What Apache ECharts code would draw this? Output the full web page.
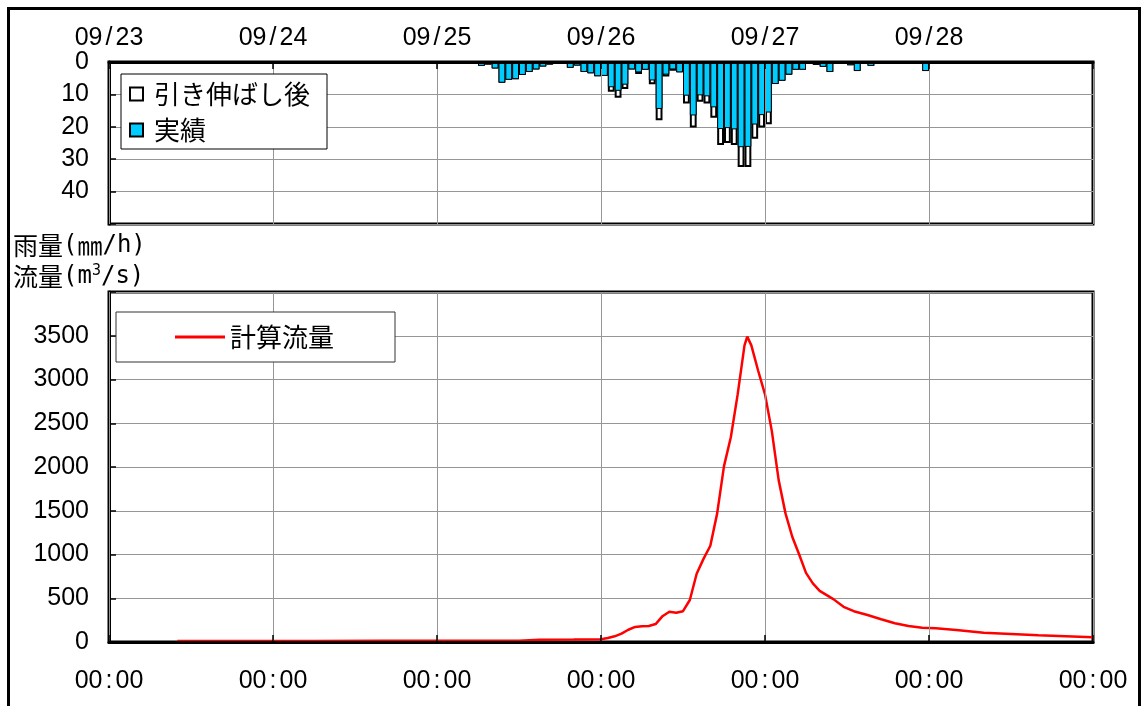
<!DOCTYPE html>
<html><head><meta charset="utf-8">
<script src="https://cdn.jsdelivr.net/npm/echarts@6/dist/echarts.min.js"></script>
<style>html,body{margin:0;padding:0;background:#fff}#c{width:1143px;height:706px}</style>
</head><body><div id="c"></div>
<script>
// tick labels
const dateLabels = ['09/23','09/24','09/25','09/26','09/27','09/28',''];
const timeLabels = ['00:00','00:00','00:00','00:00','00:00','00:00','00:00'];
// hourly rainfall (hour index from 09/23 00:00), mm/h
const rainHours = [30,31,53,54,55,56,57,58,59,60,61,62,63,64,65,66,67,68,69,70,71,72,73,74,75,76,77,78,79,80,81,82,83,84,85,86,87,88,89,90,91,92,93,94,95,96,97,98,99,100,101,102,103,104,105,106,107,108,109,110,111,119];
const rainActual = [0.4,0.4,0.3,1.2,0.8,2.0,6.4,5.5,5.3,4.0,3.1,2.3,1.4,0.8,0.5,0.3,1.8,1.1,3.1,3.5,4.4,4.3,7.8,8.9,7.0,2.3,3.2,2.4,5.7,14.5,3.9,2.3,3.2,10.4,16.5,10.3,10.6,14.0,20.7,20.4,20.8,26.3,26.2,19.3,16.4,15.6,6.8,5.8,3.9,2.4,2.4,0.2,0.9,1.5,3.1,0.2,0.2,1.0,2.8,0.2,1.2,2.8];
const rainStretched = [0.4,0.4,0.3,1.2,0.8,2.0,6.4,5.5,5.3,4.0,3.1,2.3,1.4,0.8,0.5,0.3,1.8,1.1,3.1,3.5,4.4,4.3,9.2,11.0,8.3,2.3,3.7,2.4,6.9,18.0,4.5,2.7,3.2,12.8,20.2,12.3,12.8,17.2,25.6,25.0,25.6,32.4,32.4,23.7,20.2,19.2,6.8,5.8,3.9,2.4,2.4,0.2,0.9,1.5,3.1,0.2,0.2,1.0,2.8,0.2,1.2,2.8];
// computed discharge, m3/s
const flowHours = [10,20,30,40,50,60,63,68,72,73,74,75,76,77,78,79,80,81,82,83,84,85,86,87,88,89,90,91,92,93,93.4,94,95,96,97,98,99,100,101,102,103,104,106,107.5,109,111,113,115,117,119,121,124,128,132,136,140,144];
const flowValues = [12,12,12,13,14,15,25,28,32,45,65,95,140,172,180,183,205,295,345,335,352,480,780,950,1100,1470,2010,2340,2830,3390,3490,3390,3100,2830,2410,1850,1470,1200,1000,790,670,585,490,402,352,308,260,215,182,162,156,137,106,91,76,65,54];

const NUM_FONT = 'Liberation Sans';
const JP_FONT = 'Noto Sans CJK JP';
const MONO = 'DejaVu Sans Mono';
const GRID_L = 109, GRID_W = 984;
const gridLine = {show:true, lineStyle:{color:'#969696', width:1}};
const tick = {show:true, inside:true, length:7, lineStyle:{color:'#000', width:1.5}};
const sepRich = {s:{fontFamily:NUM_FONT, fontSize:25, color:'#000', padding:[0,3,0,3]}};
const withSep = (t) => t.replace(/([\/:])/, '{s|$1}');
const titleRich = {
  m:{fontFamily:MONO, fontSize:24, color:'#000'},
  sup:{fontFamily:MONO, fontSize:15, color:'#000', verticalAlign:'top', padding:[0,0,0,0]}
};

const chart = echarts.init(document.getElementById('c'), null, {renderer:'canvas'});
chart.setOption({
  animation:false,
  backgroundColor:'#fff',
  title:[
    {text:'雨量{m|(}㎜{m|/h)}', left:13, top:233, padding:0,
     textStyle:{fontFamily:JP_FONT, fontSize:25, fontWeight:'normal', color:'#000', rich:titleRich}},
    {text:'流量{m|(m}{sup|3}{m|/s)}', left:13, top:264, padding:0,
     textStyle:{fontFamily:JP_FONT, fontSize:25, fontWeight:'normal', color:'#000', rich:titleRich}}
  ],
  grid:[
    {left:GRID_L, top:62, width:GRID_W, height:162, show:true, borderColor:'#000', borderWidth:3, backgroundColor:'transparent'},
    {left:GRID_L, top:292, width:GRID_W, height:350, show:true, borderColor:'#000', borderWidth:3, backgroundColor:'transparent'}
  ],
  legend:[
    {data:['引き伸ばし後','実績'], orient:'vertical', left:121, top:74, backgroundColor:'#fff', borderColor:'#000', borderWidth:1,
     padding:[7,17,6,8], itemWidth:13, itemHeight:13, itemGap:10, icon:'rect', z:20,
     textStyle:{fontFamily:JP_FONT, fontSize:26, color:'#000', padding:[0,0,0,6]}},
    {data:['計算流量'], left:116, top:312, backgroundColor:'#fff', borderColor:'#333', borderWidth:1,
     padding:[12,61,12,59], itemWidth:50, itemHeight:3, icon:'rect', z:20,
     textStyle:{fontFamily:JP_FONT, fontSize:26, color:'#000'}}
  ],
  xAxis:[
    {type:'value', gridIndex:0, min:0, max:144, interval:24, position:'top',
     axisLine:{show:true, lineStyle:{color:'#000', width:3}}, z:10, axisTick:tick, splitLine:gridLine,
     axisLabel:{margin:11, fontFamily:NUM_FONT, fontSize:25, color:'#000', rich:sepRich,
       formatter:v=>withSep(dateLabels[Math.round(v/24)])}},
    {type:'value', gridIndex:1, min:0, max:144, interval:24, position:'bottom',
     axisLine:{show:true, lineStyle:{color:'#000', width:3}}, z:10, axisTick:tick, splitLine:gridLine,
     axisLabel:{margin:27, fontFamily:NUM_FONT, fontSize:25, color:'#000', rich:sepRich,
       formatter:v=>withSep(timeLabels[Math.round(v/24)])}}
  ],
  yAxis:[
    {type:'value', gridIndex:0, min:0, max:50, interval:10, inverse:true,
     axisLine:{show:true, lineStyle:{color:'#000', width:3}}, axisTick:tick, splitLine:gridLine,
     axisLabel:{margin:20, fontFamily:NUM_FONT, fontSize:25, color:'#000', formatter:v=>v>=50?'':String(v)}},
    {type:'value', gridIndex:1, min:0, max:4000, interval:500,
     axisLine:{show:true, lineStyle:{color:'#000', width:3}}, axisTick:tick, splitLine:gridLine,
     axisLabel:{margin:20, fontFamily:NUM_FONT, fontSize:25, color:'#000', formatter:v=>v>=4000?'':String(v)}}
  ],
  series:[
    {type:'bar', name:'引き伸ばし後', xAxisIndex:0, yAxisIndex:0, barWidth:GRID_W/144, barGap:'-100%',
     data:rainHours.map((h,i)=>[h+0.5, rainStretched[i]]),
     itemStyle:{color:'#fff', borderColor:'#000', borderWidth:2}},
    {type:'bar', name:'実績', xAxisIndex:0, yAxisIndex:0, barWidth:GRID_W/144, barGap:'-100%',
     data:rainHours.map((h,i)=>[h+0.5, rainActual[i]]),
     itemStyle:{color:'#00CCFF', borderColor:'#000', borderWidth:1}},
    {type:'line', name:'計算流量', xAxisIndex:1, yAxisIndex:1, symbol:'none', smooth:false,
     data:flowHours.map((h,i)=>[h, flowValues[i]]),
     lineStyle:{color:'#FF0000', width:2.5}, itemStyle:{color:'#FF0000'}}
  ],
  graphic:[
    {type:'rect', shape:{x:8.5, y:8.5, width:1131, height:720}, style:{fill:'none', stroke:'#000', lineWidth:3}, z:100, silent:true}
  ]
});
</script></body></html>
